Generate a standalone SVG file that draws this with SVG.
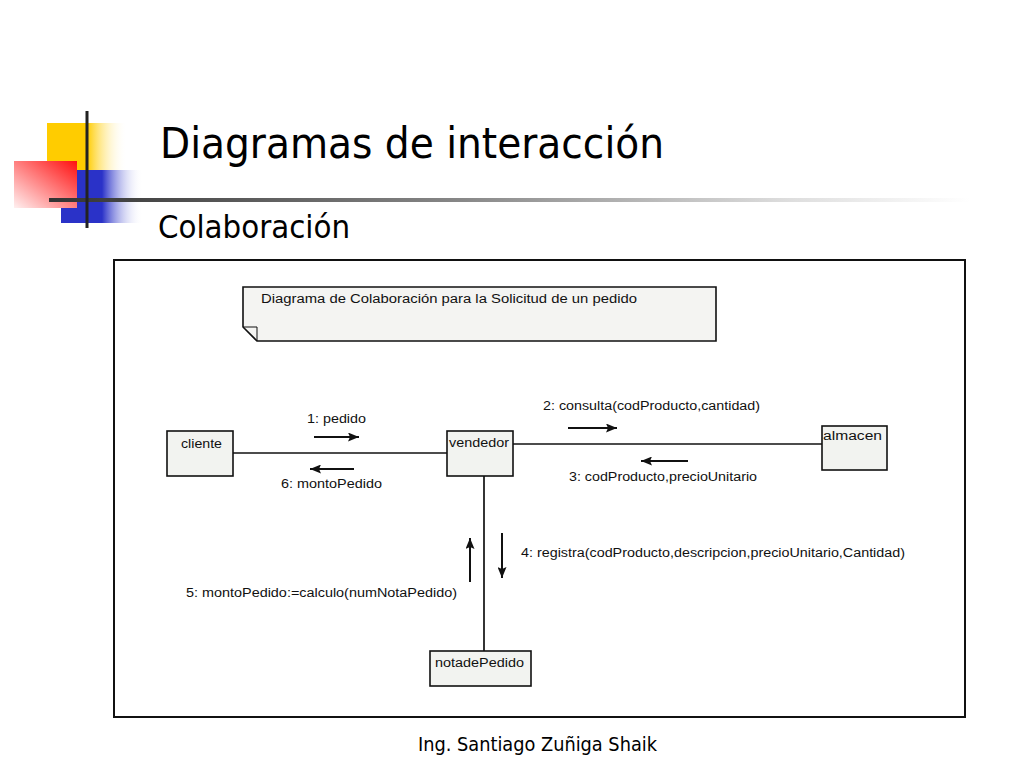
<svg xmlns="http://www.w3.org/2000/svg" width="1024" height="768" viewBox="0 0 1024 768">
<defs>
<linearGradient id="gYellow" x1="0" y1="0" x2="1" y2="0">
<stop offset="0" stop-color="#ffcc00"/><stop offset="0.5" stop-color="#ffcc00"/><stop offset="1" stop-color="#ffffff" stop-opacity="0"/>
</linearGradient>
<linearGradient id="gBlue" x1="0" y1="0" x2="1" y2="0">
<stop offset="0" stop-color="#2a32c8"/><stop offset="0.5" stop-color="#2a32c8"/><stop offset="1" stop-color="#ffffff" stop-opacity="0"/>
</linearGradient>
<linearGradient id="gRed" x1="1" y1="0" x2="0" y2="1">
<stop offset="0" stop-color="#ff1010"/><stop offset="1" stop-color="#fff0f0"/>
</linearGradient>
<linearGradient id="gLine" x1="0" y1="0" x2="1" y2="0">
<stop offset="0" stop-color="#333333"/><stop offset="0.45" stop-color="#888888"/><stop offset="0.8" stop-color="#dddddd"/><stop offset="1" stop-color="#ffffff"/>
</linearGradient>
<marker id="ah" viewBox="0 0 11 9" refX="11" refY="4.5" markerWidth="11" markerHeight="9" markerUnits="userSpaceOnUse" orient="auto">
<path d="M0,0 L11,4.5 L0,9 L2,4.5 z" fill="#111"/>
</marker>
<style>
.node rect{fill:#f2f3f0;stroke:#111;stroke-width:1.6}
.lbl{font-family:"Liberation Sans",Arial,sans-serif;font-size:12px;fill:#111}
.conn line{stroke:#111;stroke-width:1.7}
.msg line{stroke:#111;stroke-width:2;marker-end:url(#ah)}
.big{font-family:"DejaVu Sans Condensed","DejaVu Sans",sans-serif;fill:#000}
</style>
</defs>
<rect width="1024" height="768" fill="#ffffff"/>
<g id="decoration">
<rect x="47" y="123" width="80" height="47" fill="url(#gYellow)"/>
<rect x="61" y="170" width="82" height="53" fill="url(#gBlue)"/>
<rect x="14" y="161" width="63" height="47" fill="url(#gRed)"/>
<rect x="49" y="198" width="921" height="4" fill="url(#gLine)"/>
<rect x="85.5" y="111" width="3" height="117" fill="#222"/>
</g>
<text class="big" x="160" y="158" font-size="43" textLength="504" lengthAdjust="spacingAndGlyphs">Diagramas de interacción</text>
<text class="big" x="158" y="238" font-size="32" textLength="192" lengthAdjust="spacingAndGlyphs">Colaboración</text>
<rect x="114" y="260" width="851" height="457" fill="#ffffff" stroke="#111" stroke-width="2"/>
<g id="note">
<path d="M243,287 H716 V341 H257 L243,327 Z" fill="#f4f4f2" stroke="#111" stroke-width="1.6"/>
<path d="M243,327 L257,327 L257,341" fill="none" stroke="#111" stroke-width="1"/>
<text class="lbl" x="261" y="303" textLength="376" lengthAdjust="spacingAndGlyphs">Diagrama de Colaboración para la Solicitud de un pedido</text>
</g>
<g id="connectors" class="conn">
<line x1="233" y1="453" x2="447" y2="453"/>
<line x1="513" y1="444" x2="822" y2="444"/>
<line x1="484" y1="476" x2="484" y2="651"/>
</g>
<g id="messages" class="msg">
<line x1="314" y1="437" x2="359" y2="437"/>
<line x1="354" y1="469" x2="310" y2="469"/>
<line x1="568" y1="428" x2="617" y2="428"/>
<line x1="688" y1="461" x2="641" y2="461"/>
<line x1="470" y1="582" x2="470" y2="538"/>
<line x1="502" y1="533" x2="502" y2="578"/>
</g>
<g id="message-labels">
<text class="lbl" x="307" y="423" textLength="59" lengthAdjust="spacingAndGlyphs">1: pedido</text>
<text class="lbl" x="281" y="488" textLength="101" lengthAdjust="spacingAndGlyphs">6: montoPedido</text>
<text class="lbl" x="543" y="410" textLength="217" lengthAdjust="spacingAndGlyphs">2: consulta(codProducto,cantidad)</text>
<text class="lbl" x="569" y="481" textLength="188" lengthAdjust="spacingAndGlyphs">3: codProducto,precioUnitario</text>
<text class="lbl" x="521" y="557" textLength="384" lengthAdjust="spacingAndGlyphs">4: registra(codProducto,descripcion,precioUnitario,Cantidad)</text>
<text class="lbl" x="186" y="597" textLength="271" lengthAdjust="spacingAndGlyphs">5: montoPedido:=calculo(numNotaPedido)</text>
</g>
<g id="cliente" class="node">
<rect x="167" y="431" width="66" height="45"/>
<text class="lbl" x="181" y="448" textLength="41" lengthAdjust="spacingAndGlyphs">cliente</text>
</g>
<g id="vendedor" class="node">
<rect x="447" y="431" width="66" height="45"/>
<text class="lbl" x="449" y="447" textLength="60" lengthAdjust="spacingAndGlyphs">vendedor</text>
</g>
<g id="almacen" class="node">
<rect x="822" y="426" width="65" height="44"/>
<text class="lbl" x="823" y="440" textLength="59" lengthAdjust="spacingAndGlyphs">almacen</text>
</g>
<g id="notadePedido" class="node">
<rect x="430" y="651" width="101" height="35"/>
<text class="lbl" x="435" y="667" textLength="89" lengthAdjust="spacingAndGlyphs">notadePedido</text>
</g>
<text class="big" x="418" y="751" font-size="19" textLength="239" lengthAdjust="spacingAndGlyphs">Ing. Santiago Zuñiga Shaik</text>
</svg>
